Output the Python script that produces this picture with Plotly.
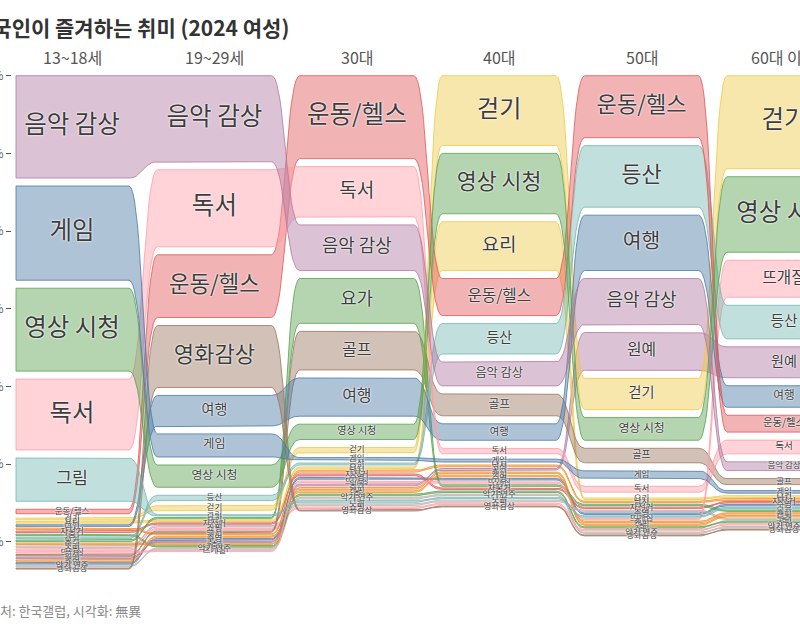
import plotly.graph_objects as go

# ---------------- data ----------------
ages = ['13~18세', '19~29세', '30대', '40대', '50대', '60대 이상']

hobbies = ['음악 감상', '게임', '영상 시청', '독서', '그림', '운동/헬스', '영화감상',
           '여행', '등산', '걷기', '뜨개질', '요가', '골프', '요리', '원예',
           '낚시', '축구', '자전거', '캠핑', '노래', '춤', '수영', '쇼핑', '악기 연주']

hobby_colors = ['#b07aa1', '#4e79a7', '#59a14f', '#ff9da7', '#76b7b2', '#e15759', '#9c755f',
                '#4e79a7', '#76b7b2', '#edc948', '#ff9da7', '#59a14f', '#9c755f', '#edc948', '#b07aa1',
                '#f28e2b', '#f28e2b', '#e15759', '#f28e2b', '#bab0ac', '#59a14f', '#4e79a7', '#ff9da7', '#bab0ac']

# share of respondents (%), one list per age group, aligned with `hobbies`
v_13_18 = [28.4, 26.3, 23.4, 20.3, 13.2, 2.3, 0.5,
           0.8, 0.75, 0.85, 0.7, 0.75, 0.7, 0.85, 0.7,
           0.8, 0.75, 0.8, 0.7, 0.75, 0.8, 0.7, 0.75, 0.7]
v_19_29 = [24.2, 8.0, 7.8, 21.9, 0.7, 18.2, 18.0,
           9.9, 2.7, 2.3, 0.5, 0.7, 0.65, 0.7, 0.6,
           0.65, 0.6, 0.7, 0.65, 0.7, 0.6, 0.65, 0.7, 0.6]
v_30s = [13.8, 1.4, 6.0, 15.0, 0.8, 23.4, 0.5,
         11.9, 1.0, 2.6, 0.85, 13.6, 12.0, 0.9, 0.85,
         0.9, 0.85, 0.9, 0.85, 0.8, 0.85, 0.9, 0.8, 0.85]
v_40s = [8.2, 1.5, 17.6, 2.8, 0.75, 11.6, 0.5,
         6.3, 9.9, 20.0, 0.8, 0.8, 7.7, 14.6, 0.85,
         0.9, 0.85, 0.8, 0.85, 0.75, 0.8, 0.85, 0.75, 0.8]
v_50s = [13.9, 4.0, 7.9, 3.0, 0.7, 18.0, 0.5,
         16.3, 17.9, 10.1, 0.7, 0.75, 5.8, 0.8, 11.8,
         0.8, 0.7, 0.75, 0.7, 0.75, 0.7, 0.75, 0.7, 0.7]
v_60s = [4.3, 1.3, 21.5, 5.6, 0.7, 6.4, 0.5,
         7.6, 10.7, 26.0, 11.6, 0.7, 3.1, 0.75, 10.0,
         0.75, 0.7, 0.75, 0.7, 0.7, 0.7, 0.75, 0.7, 0.7]

columns = [v_13_18, v_19_29, v_30s, v_40s, v_50s, v_60s]
tick_vals = [0, 20, 40, 60, 80, 100, 120]

# ---------------- geometry / style ----------------
W, H = 800, 639
ML, MT, MB = 12, 70, 39
PX = 3.885            # pixels per percentage point
Y0 = 75.7             # pixel row of value 0
GAP = 8 / PX          # max gap between stacked bands (in value units)
centers = [72 + 142.4 * i for i in range(len(ages))]
HW = 57
FONT = 'Noto Sans CJK KR, Noto Sans, sans-serif'


def rgba(hx, a):
    hx = hx.lstrip('#')
    r, g, b = int(hx[0:2], 16), int(hx[2:4], 16), int(hx[4:6], 16)
    return f'rgba({r},{g},{b},{a})'


n = len(hobbies)
tops = [[0.0] * len(ages) for _ in range(n)]
bots = [[0.0] * len(ages) for _ in range(n)]
for ci, vals in enumerate(columns):
    order = sorted(range(n), key=lambda k: -vals[k])
    cum = 0.0
    for k in order:
        slot = vals[k]
        g = min(GAP, 0.5 * slot)
        tops[k][ci] = cum
        bots[k][ci] = cum + slot - g
        cum += slot


def edge(ys):
    xs_out, ys_out = [], []
    for i, y in enumerate(ys):
        left = 16 if i == 0 else centers[i] - HW
        right = centers[i] + HW
        if i > 0:
            x0, y0p = centers[i - 1] + HW, ys[i - 1]
            x1, y1p = left, y
            d = x1 - x0
            for s in range(1, 21):
                t = s / 20
                mt = 1 - t
                bx = mt**3 * x0 + 3 * mt**2 * t * (x0 + d / 2) + 3 * mt * t**2 * (x1 - d / 2) + t**3 * x1
                by = mt**3 * y0p + 3 * mt**2 * t * y0p + 3 * mt * t**2 * y1p + t**3 * y1p
                xs_out.append(bx)
                ys_out.append(by)
        else:
            xs_out.append(left)
            ys_out.append(y)
        xs_out.append(right)
        ys_out.append(y)
    return xs_out, ys_out


fig = go.Figure()
draw_order = list(range(n))[::-1]
for k in draw_order:
    tx, ty = edge(tops[k])
    bx, by = edge(bots[k])
    xs = tx + bx[::-1] + [tx[0]]
    ys = ty + by[::-1] + [ty[0]]
    fig.add_trace(go.Scatter(
        x=xs, y=ys, mode='lines', fill='toself',
        fillcolor=rgba(hobby_colors[k], 0.45),
        line=dict(color=rgba(hobby_colors[k], 0.8), width=1),
        hoverinfo='skip', showlegend=False))

# labels
for ci in range(len(ages)):
    lx, ly, lt, ls = [], [], [], []
    for k in range(n):
        hpx = (bots[k][ci] - tops[k][ci]) * PX
        lx.append(centers[ci])
        ly.append((tops[k][ci] + bots[k][ci]) / 2)
        lt.append(hobbies[k])
        ls.append(max(8.5, min(24.5, 0.26 * hpx + 6)))
    fig.add_trace(go.Scatter(
        x=lx, y=ly, text=lt, mode='text',
        textposition='middle center',
        textfont=dict(size=ls, color='#3d3d3d', family=FONT,
                      shadow='0px 0px 2px #ffffff, 0px 0px 2px #ffffff'),
        hoverinfo='skip', showlegend=False, cliponaxis=False))

ann = []
for ci, a in enumerate(ages):
    ann.append(dict(x=centers[ci], xref='x', y=1 + (MT - 57) / (H - MT - MB), yref='paper',
                    text=a, showarrow=False, xanchor='center', yanchor='middle',
                    font=dict(size=16, color='#555555', family=FONT)))
ann.append(dict(x=291, xref='x', y=1 + (MT - 27) / (H - MT - MB), yref='paper',
                text='<b>한국인이 즐겨하는 취미 (2024 여성)</b>', showarrow=False,
                xanchor='right', yanchor='middle',
                font=dict(size=21, color='#333333', family=FONT)))
ann.append(dict(x=143, xref='x', y=(H - MB - 610) / (H - MT - MB), yref='paper',
                text='출처: 한국갤럽, 시각화: 無異', showarrow=False,
                xanchor='right', yanchor='middle',
                font=dict(size=13, color='#888888', family=FONT)))

fig.update_layout(
    width=W, height=H,
    margin=dict(l=ML, r=0, t=MT, b=MB, pad=0),
    paper_bgcolor='white', plot_bgcolor='white',
    annotations=ann,
    xaxis=dict(range=[ML, W], visible=False, automargin=False),
    yaxis=dict(range=[(H - MB - Y0) / PX, (MT - Y0) / PX],
               tickvals=tick_vals, ticktext=[f'{v}%' for v in tick_vals],
               ticks='outside', ticklen=5, tickcolor='#555555', tickwidth=1,
               tickfont=dict(size=12, color='#666666', family=FONT),
               showgrid=False, zeroline=False, showline=False, automargin=False),
    showlegend=False,
)

fig.write_html('out.html', config={'displayModeBar': False},
               post_script="document.body.style.margin='0';document.body.style.overflow='hidden';")
